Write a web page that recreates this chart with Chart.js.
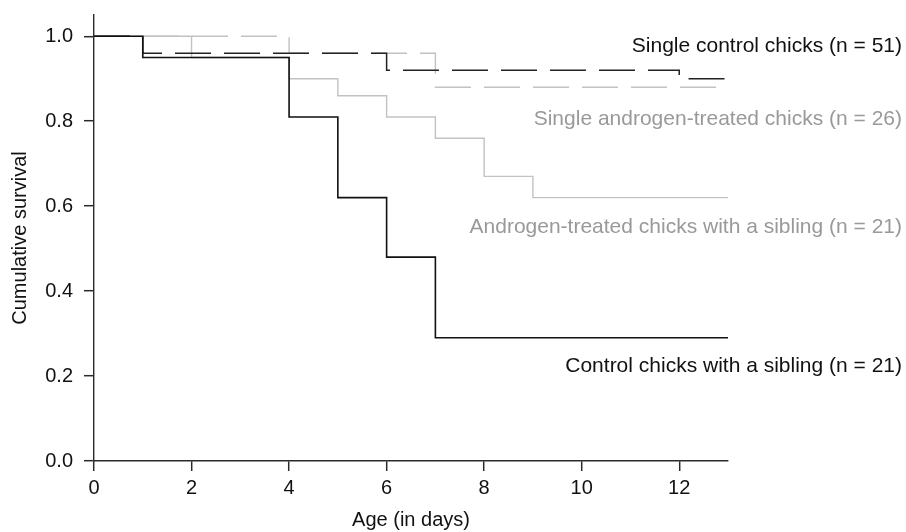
<!DOCTYPE html>
<html>
<head>
<meta charset="utf-8">
<script src="https://cdn.jsdelivr.net/npm/chart.js@4/dist/chart.umd.min.js"></script>
<style>
  body { margin: 0; background: #fff; }
  #wrap { width: 906px; height: 532px; }
</style>
</head>
<body>
<div id="wrap"><canvas id="survivalChart" width="906" height="532"></canvas></div>
<script>
// Kaplan-Meier steps (day of death, survival after it)
const ctrlSibDays = [0, 1, 4, 5, 6, 7, 13];
const ctrlSibSurv = [1.0, 0.95, 0.81, 0.62, 0.48, 0.29, 0.29];

const andrSibDays = [0, 2, 4, 5, 6, 7, 8, 9, 13];
const andrSibSurv = [1.0, 0.95, 0.90, 0.86, 0.81, 0.76, 0.67, 0.62, 0.62];

const singleCtrlDays = [0, 1, 6, 12, 13];
const singleCtrlSurv = [1.0, 0.96, 0.92, 0.90, 0.90];

const singleAndrDays = [0, 4, 7, 13];
const singleAndrSurv = [1.0, 0.96, 0.88, 0.88];

// curve labels on the right, with the survival level they sit at
const labelTexts = [
    'Single control chicks (n = 51)',
    'Single androgen-treated chicks (n = 26)',
    'Androgen-treated chicks with a sibling (n = 21)',
    'Control chicks with a sibling (n = 21)'
];
const labelLevels = [0.977, 0.805, 0.551, 0.224];
const labelColors = ['#111', '#999', '#999', '#111'];

const xTicks = [0, 2, 4, 6, 8, 10, 12];
const yTicks = [0, 0.2, 0.4, 0.6, 0.8, 1.0];

function toPoints(days, surv) {
    return days.map((d, i) => ({ x: d, y: surv[i] }));
}

const FONT = 'Liberation Sans, Arial, Helvetica, sans-serif';
const AXIS = '#2a2a2a';

const curveLabels = {
    id: 'curveLabels',
    afterDraw(chart) {
        const ctx = chart.ctx;
        const yScale = chart.scales.y;
        ctx.save();
        ctx.font = '21px ' + FONT;
        ctx.textAlign = 'right';
        ctx.textBaseline = 'middle';
        labelTexts.forEach((t, i) => {
            ctx.fillStyle = labelColors[i];
            ctx.fillText(t, chart.width - 4, yScale.getPixelForValue(labelLevels[i]));
        });
        ctx.restore();
    }
};

const ctx = document.getElementById('survivalChart').getContext('2d');
const chart = new Chart(ctx, {
    type: 'line',
    data: {
        datasets: [
            {
                label: 'Control chicks with a sibling',
                data: toPoints(ctrlSibDays, ctrlSibSurv),
                borderColor: '#111',
                borderWidth: 1.6,
                stepped: true,
                order: 0
            },
            {
                label: 'Single control chicks',
                data: toPoints(singleCtrlDays, singleCtrlSurv),
                borderColor: '#222',
                borderWidth: 1.5,
                borderDash: [36, 13],
                stepped: true,
                order: 1
            },
            {
                label: 'Androgen-treated chicks with a sibling',
                data: toPoints(andrSibDays, andrSibSurv),
                borderColor: '#c2c2c2',
                borderWidth: 1.4,
                stepped: true,
                order: 2
            },
            {
                label: 'Single androgen-treated chicks',
                data: toPoints(singleAndrDays, singleAndrSurv),
                borderColor: '#c2c2c2',
                borderWidth: 1.4,
                borderDash: [36, 13],
                stepped: true,
                order: 3
            }
        ]
    },
    options: {
        responsive: false,
        animation: false,
        devicePixelRatio: 1,
        layout: {
            autoPadding: false,
            padding: { top: 15, right: 178, left: 0, bottom: 0 }
        },
        elements: {
            point: { radius: 0, hoverRadius: 0 },
            line: { tension: 0, fill: false }
        },
        plugins: {
            legend: { display: false },
            tooltip: { enabled: false }
        },
        scales: {
            x: {
                type: 'linear',
                min: 0,
                max: 13,
                afterFit: (scale) => {
                    scale.height = 71;
                    scale.paddingLeft = 0;
                    scale.paddingRight = 0;
                },
                afterBuildTicks: (scale) => { scale.ticks = xTicks.map(v => ({ value: v })); },
                ticks: {
                    color: '#111',
                    font: { family: FONT, size: 20 },
                    padding: 5,
                    maxRotation: 0,
                    callback: (v) => String(v)
                },
                grid: {
                    drawOnChartArea: false,
                    drawTicks: true,
                    tickLength: 10,
                    color: AXIS,
                    tickColor: AXIS,
                    lineWidth: 1.4,
                    tickWidth: 1.5
                },
                border: { display: true, color: AXIS, width: 1.4 },
                title: {
                    display: true,
                    text: 'Age (in days)',
                    color: '#111',
                    font: { family: FONT, size: 20 },
                    padding: { top: 0, bottom: 0 }
                }
            },
            y: {
                type: 'linear',
                min: 0,
                max: 1.05,
                afterFit: (scale) => {
                    scale.width = 94;
                    scale.paddingTop = 0;
                    scale.paddingBottom = 0;
                },
                afterBuildTicks: (scale) => { scale.ticks = yTicks.map(v => ({ value: v })); },
                ticks: {
                    color: '#111',
                    font: { family: FONT, size: 20 },
                    padding: 11,
                    callback: (v) => Number(v).toFixed(1)
                },
                grid: {
                    drawOnChartArea: false,
                    drawTicks: true,
                    tickLength: 10,
                    color: AXIS,
                    tickColor: AXIS,
                    lineWidth: 1.4,
                    tickWidth: 1.5
                },
                border: { display: true, color: AXIS, width: 1.4 },
                title: {
                    display: true,
                    text: 'Cumulative survival',
                    color: '#111',
                    font: { family: FONT, size: 20 },
                    padding: { top: 8, bottom: 0 }
                }
            }
        }
    },
    plugins: [curveLabels]
});
</script>
</body>
</html>
